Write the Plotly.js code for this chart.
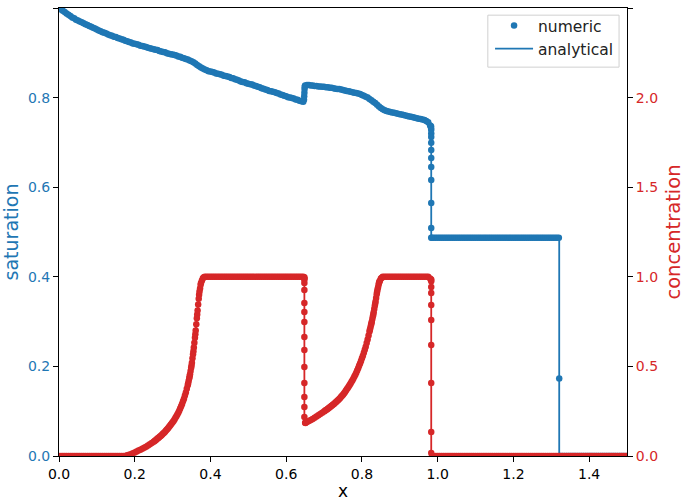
<!DOCTYPE html>
<html>
<head>
<meta charset="utf-8">
<script src="https://cdn.plot.ly/plotly-3.0.1.min.js"></script>
<style>html,body{margin:0;padding:0;background:#fff;}#chart{width:685px;height:502px;}</style>
</head>
<body>
<div id="chart"></div>
<script>
// ---- cell centres of the numeric grid ----
var gridX = [
  0.000,0.005,0.010,0.015,0.020,0.025,0.030,0.035,0.040,0.045,0.050,0.055,0.060,0.065,0.070,0.075,0.080,0.085,0.090,0.095,
  0.100,0.105,0.110,0.115,0.120,0.125,0.130,0.135,0.140,0.145,0.150,0.155,0.160,0.165,0.170,0.175,0.180,0.185,0.190,0.195,
  0.200,0.205,0.210,0.215,0.220,0.225,0.230,0.235,0.240,0.245,0.250,0.255,0.260,0.265,0.270,0.275,0.280,0.285,0.290,0.295,
  0.300,0.305,0.310,0.315,0.320,0.325,0.330,0.335,0.340,0.345,0.350,0.355,0.360,0.365,0.370,0.375,0.380,0.385,0.390,0.395,
  0.400,0.405,0.410,0.415,0.420,0.425,0.430,0.435,0.440,0.445,0.450,0.455,0.460,0.465,0.470,0.475,0.480,0.485,0.490,0.495,
  0.500,0.505,0.510,0.515,0.520,0.525,0.530,0.535,0.540,0.545,0.550,0.555,0.560,0.565,0.570,0.575,0.580,0.585,0.590,0.595,
  0.600,0.605,0.610,0.615,0.620,0.625,0.630,0.635,0.640,0.645,0.650,0.655,0.660,0.665,0.670,0.675,0.680,0.685,0.690,0.695,
  0.700,0.705,0.710,0.715,0.720,0.725,0.730,0.735,0.740,0.745,0.750,0.755,0.760,0.765,0.770,0.775,0.780,0.785,0.790,0.795,
  0.800,0.805,0.810,0.815,0.820,0.825,0.830,0.835,0.840,0.845,0.850,0.855,0.860,0.865,0.870,0.875,0.880,0.885,0.890,0.895,
  0.900,0.905,0.910,0.915,0.920,0.925,0.930,0.935,0.940,0.945,0.950,0.955,0.960,0.965,0.970,0.975,0.980,0.985,0.990,0.995,
  1.000,1.005,1.010,1.015,1.020,1.025,1.030,1.035,1.040,1.045,1.050,1.055,1.060,1.065,1.070,1.075,1.080,1.085,1.090,1.095,
  1.100,1.105,1.110,1.115,1.120,1.125,1.130,1.135,1.140,1.145,1.150,1.155,1.160,1.165,1.170,1.175,1.180,1.185,1.190,1.195,
  1.200,1.205,1.210,1.215,1.220,1.225,1.230,1.235,1.240,1.245,1.250,1.255,1.260,1.265,1.270,1.275,1.280,1.285,1.290,1.295,
  1.300,1.305,1.310,1.315,1.320,1.325,1.330,1.335,1.340,1.345,1.350,1.355,1.360,1.365,1.370,1.375,1.380,1.385,1.390,1.395,
  1.400,1.405,1.410,1.415,1.420,1.425,1.430,1.435,1.440,1.445,1.450,1.455,1.460,1.465,1.470,1.475,1.480,1.485,1.490,1.495,
  1.500];

// ---- saturation, numeric (on gridX) ----
var satGrid = [
  1.000,0.997,0.994,0.991,0.988,0.985,0.982,0.979,0.977,0.974,0.972,0.970,0.968,0.966,0.964,0.962,0.960,0.958,0.956,0.954,
  0.952,0.950,0.948,0.946,0.945,0.943,0.941,0.939,0.938,0.936,0.935,0.933,0.932,0.930,0.929,0.927,0.926,0.924,0.923,0.921,
  0.920,0.919,0.918,0.916,0.915,0.914,0.913,0.911,0.910,0.909,0.908,0.907,0.906,0.904,0.903,0.902,0.901,0.899,0.898,0.897,
  0.896,0.895,0.894,0.892,0.891,0.889,0.888,0.886,0.885,0.883,0.881,0.879,0.876,0.873,0.870,0.867,0.865,0.863,0.861,0.859,
  0.858,0.857,0.856,0.854,0.853,0.852,0.851,0.849,0.848,0.847,0.846,0.844,0.843,0.841,0.840,0.838,0.836,0.835,0.834,0.832,
  0.831,0.830,0.829,0.827,0.826,0.824,0.823,0.821,0.820,0.818,0.817,0.815,0.814,0.813,0.812,0.810,0.809,0.807,0.806,0.804,
  0.803,0.801,0.800,0.799,0.798,0.796,0.795,0.793,0.792,0.791,0.827,0.828,0.828,0.827,0.827,0.826,0.826,0.825,0.825,0.824,
  0.824,0.823,0.823,0.822,0.822,0.821,0.820,0.819,0.819,0.818,0.817,0.816,0.815,0.814,0.813,0.812,0.811,0.810,0.809,0.808,
  0.806,0.804,0.802,0.800,0.797,0.794,0.791,0.788,0.784,0.780,0.777,0.774,0.772,0.770,0.769,0.768,0.767,0.766,0.765,0.764,
  0.763,0.762,0.761,0.760,0.759,0.758,0.757,0.756,0.755,0.754,0.753,0.752,0.751,0.750,0.748,0.745,0.738,0.487,0.487,0.487,
  0.487,0.487,0.487,0.487,0.487,0.487,0.487,0.487,0.487,0.487,0.487,0.487,0.487,0.487,0.487,0.487,0.487,0.487,0.487,0.487,
  0.487,0.487,0.487,0.487,0.487,0.487,0.487,0.487,0.487,0.487,0.487,0.487,0.487,0.487,0.487,0.487,0.487,0.487,0.487,0.487,
  0.487,0.487,0.487,0.487,0.487,0.487,0.487,0.487,0.487,0.487,0.487,0.487,0.487,0.487,0.487,0.487,0.487,0.487,0.487,0.487,
  0.487,0.487,0.487,0.487,0.487,0,0,0,0,0,0,0,0,0,0,0,0,0,0,0,
  0,0,0,0,0,0,0,0,0,0,0,0,0,0,0,0,0,0,0,0,
  0];
// extra numeric points inside the saturation fronts
var satFrontX = [0.647,0.6475,0.648,0.6485,0.649,
  0.9825,0.9825,0.983,0.983,0.983,0.983,0.983,0.983,0.983,0.983,0.983,0.983,0.983,
  1.321];
var satFront = [0.795,0.803,0.811,0.819,0.825,
  0.736,0.732,0.728,0.720,0.712,0.699,0.683,0.665,0.645,0.616,0.565,0.509,0.487,
  0.173];

// ---- saturation, analytical ----
var satAnaX = [0,0.05,0.10,0.15,0.20,0.25,0.30,0.35,0.37,0.38,0.40,0.45,0.50,0.55,0.60,0.648,0.648,
  0.70,0.75,0.80,0.82,0.84,0.86,0.90,0.95,0.983,0.983,1.321,1.321,1.50];
var satAna = [1.000,0.972,0.952,0.935,0.920,0.908,0.896,0.881,0.870,0.865,0.858,0.846,0.831,0.817,0.803,0.791,0.828,
  0.824,0.817,0.806,0.797,0.784,0.772,0.763,0.753,0.742,0.487,0.487,0,0];

// ---- concentration, numeric (on gridX) ----
var concGrid = [
  0,0,0,0,0,0,0,0,0,0,0,0,0,0,0,0,0,0,0,0,
  0,0,0,0,0,0,0,0,0,0,0,0,0,0,0,0,0.004,0.007,0.010,0.015,
  0.020,0.025,0.030,0.035,0.040,0.046,0.052,0.058,0.065,0.072,0.080,0.088,0.097,0.106,0.115,0.125,0.136,0.148,0.160,0.174,
  0.188,0.204,0.222,0.242,0.265,0.290,0.320,0.355,0.395,0.445,0.505,0.585,0.680,0.790,0.900,0.965,0.992,1,1,1,
  1,1,1,1,1,1,1,1,1,1,1,1,1,1,1,1,1,1,1,1,
  1,1,1,1,1,1,1,1,1,1,1,1,1,1,1,1,1,1,1,1,
  1,1,1,1,1,1,1,1,1,1,0.185,0.190,0.195,0.201,0.207,0.213,0.220,0.227,0.234,0.241,
  0.249,0.256,0.264,0.272,0.280,0.289,0.298,0.308,0.318,0.330,0.342,0.356,0.372,0.388,0.405,0.423,0.443,0.465,0.490,0.516,
  0.545,0.576,0.610,0.650,0.695,0.740,0.790,0.850,0.915,0.965,0.990,1,1,1,1,1,1,1,1,1,
  1,1,1,1,1,1,1,1,1,1,1,1,1,1,1,1,0.990,0,0,0,
  0,0,0,0,0,0,0,0,0,0,0,0,0,0,0,0,0,0,0,0,
  0,0,0,0,0,0,0,0,0,0,0,0,0,0,0,0,0,0,0,0,
  0,0,0,0,0,0,0,0,0,0,0,0,0,0,0,0,0,0,0,0,
  0,0,0,0,0,0,0,0,0,0,0,0,0,0,0,0,0,0,0,0,
  0,0,0,0,0,0,0,0,0,0,0,0,0,0,0,0,0,0,0,0,
  0];
// extra numeric points where the concentration rises steeply (finer cells)
var concRiseX = [0.2525,0.2575,0.2625,0.2675,0.2725,0.2775,0.2825,0.2875,0.2925,0.2975,
  0.3025,0.3075,0.3125,0.3175,0.3225,0.3275,0.3325,0.3375,0.3425,0.3475,
  0.3525,0.3575,0.3625,0.3675,0.3725,0.3775,0.3825,
  0.341,0.344,0.346,0.349,0.351,0.354,0.356,0.359,0.361,0.364,0.366,0.369,0.371,0.374,
  0.7025,0.7075,0.7125,0.7175,0.7225,0.7275,0.7325,0.7375,0.7425,0.7475,
  0.7525,0.7575,0.7625,0.7675,0.7725,0.7775,0.7825,0.7875,0.7925,0.7975,
  0.8025,0.8075,0.8125,0.8175,0.8225,0.8275,0.8325,0.8375,0.8425,0.8475,0.8525,
  0.821,0.824,0.826,0.829,0.831,0.834,0.836,0.839,0.841,0.844,0.846];
var concRise = [0.084,0.092,0.101,0.110,0.120,0.130,0.142,0.154,0.167,0.181,
  0.196,0.213,0.232,0.253,0.277,0.305,0.337,0.375,0.420,0.475,
  0.545,0.632,0.735,0.845,0.935,0.980,0.997,
  0.405,0.434,0.456,0.493,0.520,0.568,0.605,0.660,0.700,0.768,0.812,0.878,0.918,0.955,
  0.252,0.260,0.268,0.276,0.284,0.293,0.303,0.313,0.324,0.336,
  0.349,0.364,0.380,0.396,0.414,0.433,0.454,0.477,0.503,0.530,
  0.560,0.593,0.630,0.672,0.717,0.765,0.820,0.882,0.940,0.978,0.995,
  0.704,0.731,0.749,0.780,0.802,0.838,0.862,0.902,0.928,0.955,0.972];
// extra numeric points inside the concentration fronts
var concFrontX = [0.648,0.648,0.648,0.648,0.648,0.648,0.648,0.648,0.648,0.648,0.648,0.648,0.648,0.648,0.648,0.651,
  0.983,0.983,0.983,0.983,0.983,0.983,0.983,0.983,0.983,0.983];
var concFront = [0.997,0.990,0.985,0.965,0.926,0.854,0.804,0.748,0.664,0.592,0.497,0.407,0.329,0.273,0.218,0.184,
  0.985,0.975,0.943,0.910,0.843,0.759,0.619,0.407,0.134,0.017];

// ---- concentration, analytical ----
var concAnaX = [0,0.17,0.20,0.25,0.30,0.33,0.35,0.36,0.37,0.38,0.648,0.648,0.70,0.75,0.80,0.83,0.85,0.983,0.983,1.50];
var concAna = [0,0,0.020,0.080,0.188,0.320,0.505,0.680,0.900,1.0,1.0,0.184,0.249,0.342,0.545,0.790,1.0,1.0,0,0];

// ---- tick labels ----
var xTicks = [0,0.2,0.4,0.6,0.8,1.0,1.2,1.4];
var xTickText = ['0.0','0.2','0.4','0.6','0.8','1.0','1.2','1.4'];
var satTicks = [0,0.2,0.4,0.6,0.8,1.0];
var satTickText = ['0.0','0.2','0.4','0.6','0.8','1.0'];
var concTicks = [0,0.5,1.0,1.5,2.0,2.5];
var concTickText = ['0.0','0.5','1.0','1.5','2.0','2.5'];

var BLUE = '#1f77b4', RED = '#d62728';
var FONT = 'DejaVu Sans, Verdana, sans-serif';

var traces = [
  {x: satAnaX, y: satAna, type: 'scatter', mode: 'lines', name: 'analytical', legendrank: 2,
   line: {color: BLUE, width: 1.8}, yaxis: 'y'},
  {x: gridX.concat(satFrontX), y: satGrid.concat(satFront), type: 'scatter', mode: 'markers',
   name: 'numeric', legendrank: 1, marker: {color: BLUE, size: 6.5}, yaxis: 'y'},
  {x: concAnaX, y: concAna, type: 'scatter', mode: 'lines', showlegend: false,
   line: {color: RED, width: 1.8}, yaxis: 'y2'},
  {x: gridX.concat(concRiseX, concFrontX), y: concGrid.concat(concRise, concFront), type: 'scatter',
   mode: 'markers', showlegend: false, marker: {color: RED, size: 6.5}, yaxis: 'y2'}
];

var axisCommon = {
  showgrid: false, zeroline: false, showline: true, linecolor: '#000', linewidth: 1,
  ticks: 'outside', ticklen: 5, tickwidth: 1, tickcolor: '#000', automargin: false
};

var layout = {
  width: 685, height: 502,
  margin: {l: 59, r: 58, t: 8, b: 46, pad: 0},
  paper_bgcolor: '#fff', plot_bgcolor: '#fff',
  font: {family: FONT, size: 14, color: '#000'},
  showlegend: true,
  legend: {x: 0.986, y: 0.998, xanchor: 'right', yanchor: 'top', itemwidth: 38,
    bgcolor: 'rgba(0,0,0,0)', borderwidth: 0,
    font: {family: FONT, size: 15.5, color: '#222'}},
  // legend frame (matplotlib style box)
  shapes: [{type: 'rect', xref: 'paper', yref: 'paper', x0: 0.755, x1: 0.986, y0: 0.868, y1: 0.984,
    line: {color: '#d0d0d0', width: 1}, fillcolor: 'rgba(255,255,255,0.85)', layer: 'above'}],
  xaxis: Object.assign({}, axisCommon, {
    range: [0, 1.5], mirror: true, tickvals: xTicks, ticktext: xTickText,
    tickfont: {family: FONT, size: 14, color: '#000'},
    title: {text: 'x', font: {family: FONT, size: 17, color: '#000'}, standoff: 4}
  }),
  yaxis: Object.assign({}, axisCommon, {
    range: [0, 1], tickvals: satTicks, ticktext: satTickText,
    tickfont: {family: FONT, size: 14, color: BLUE},
    title: {text: 'saturation', font: {family: FONT, size: 19, color: BLUE}, standoff: 8}
  }),
  yaxis2: Object.assign({}, axisCommon, {
    range: [0, 2.5], overlaying: 'y', side: 'right', tickvals: concTicks, ticktext: concTickText,
    tickfont: {family: FONT, size: 14, color: RED},
    title: {text: 'concentration', font: {family: FONT, size: 19.5, color: RED}, standoff: 12}
  })
};

Plotly.newPlot('chart', traces, layout, {displayModeBar: false, staticPlot: true});
</script>
</body>
</html>
